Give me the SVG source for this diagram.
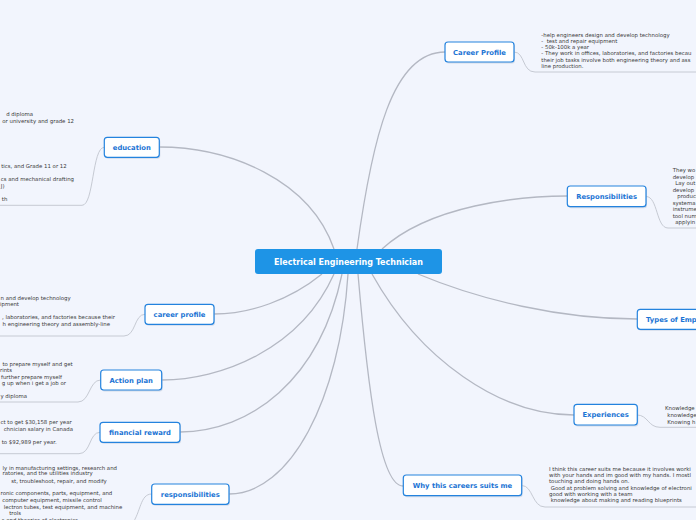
<svg xmlns="http://www.w3.org/2000/svg" width="696" height="520" viewBox="0 0 696 520">
<style>
.bg{fill:#f2f5fd}
.box{fill:#ffffff;stroke:#2483de;stroke-width:1.2}
.sh{fill:#b9c4d8;opacity:0.55}
.lbl{font-family:"DejaVu Sans","Liberation Sans",sans-serif;font-weight:bold;font-size:6.8px;fill:#1b74d4;text-anchor:middle}
.ctr{fill:#1e94e6}
.ctl{font-family:"DejaVu Sans","Liberation Sans",sans-serif;font-weight:bold;font-size:8px;fill:#ffffff;text-anchor:middle}
.lf{font-family:"DejaVu Sans","Liberation Sans",sans-serif;font-size:5.4px;fill:#3a3a3a;white-space:pre}
.e{text-anchor:end}
.conn{fill:none;stroke:#b4b8c3;stroke-width:1.3}
.br{fill:none;stroke:#c6cad3;stroke-width:1}
</style>
<rect class="bg" x="0" y="0" width="696" height="520"/>

<g id="connectors">
  <path class="conn" d="M357,249 C372,140 392,52 445,52"/>
  <path class="conn" d="M382,249 C430,205 520,196 567,196"/>
  <path class="conn" d="M418,274 C480,300 560,319 637,319"/>
  <path class="conn" d="M372,274 C420,360 500,415 574,415"/>
  <path class="conn" d="M358,274 C368,390 380,486 403,486"/>
  <path class="conn" d="M334,249 C310,180 230,147 159,147"/>
  <path class="conn" d="M322,274 C290,300 250,314 214,314"/>
  <path class="conn" d="M334,274 C300,350 220,380 162,380"/>
  <path class="conn" d="M342,274 C320,380 250,432 180,432"/>
  <path class="conn" d="M348,274 C340,400 290,494 229,494"/>
  <path class="br" d="M514,52 C525,52 522,72 535,72 H696"/>
  <path class="br" d="M646,196.5 C658,196.5 656,228 668,228 H696"/>
  <path class="br" d="M637,415 C648,415 648,427.3 660,427.3 H696"/>
  <path class="br" d="M521.7,485.5 C533,485.5 532,507 545,507 H696"/>
  <path class="br" d="M104.3,147.3 C92,147.3 94,205.3 82,205.3 H0"/>
  <path class="br" d="M145,314.3 C134,314.3 136,336 124,336 H0"/>
  <path class="br" d="M100.7,380 C89,380 90,402 78,402 H0"/>
  <path class="br" d="M100,432.3 C89,432.3 91,453.7 79,453.7 H0"/>
  <path class="br" d="M151.7,494 C140,494 141,512 132,524"/>
</g>

<g id="center">
  <rect class="ctr" x="255" y="249" width="187" height="25" rx="3"/>
  <text class="ctl" x="348.5" y="265">Electrical Engineering Technician</text>
</g>

<g id="career-profile-right">
  <rect class="sh" x="446" y="43.5" width="69" height="20" rx="3"/>
  <rect class="box" x="445" y="42" width="69" height="20" rx="3"/>
  <text class="lbl" x="479.5" y="54.5">Career Profile</text>
  <text class="lf" x="541.3" y="37.3">-help engineers design and develop technology</text>
  <text class="lf" x="541.3" y="43.3">-  test and repair equipment</text>
  <text class="lf" x="541.3" y="49.3">- 50k-100k a year</text>
  <text class="lf" x="541.3" y="55.3">- They work in offices, laboratories, and factories becau</text>
  <text class="lf" x="541.3" y="61.6">their job tasks involve both engineering theory and ass</text>
  <text class="lf" x="541.3" y="68">line production.</text>
</g>

<g id="responsibilities-right">
  <rect class="sh" x="568.3" y="187.5" width="78.7" height="20.7" rx="3"/>
  <rect class="box" x="567.3" y="186" width="78.7" height="20.7" rx="3"/>
  <text class="lbl" x="606.6" y="198.8">Responsibilities</text>
  <text class="lf" x="672.7" y="172">They wo</text>
  <text class="lf" x="672.7" y="178.5">develop</text>
  <text class="lf" x="675.3" y="185">Lay out</text>
  <text class="lf" x="672.7" y="191.5">develop</text>
  <text class="lf" x="677.3" y="198">product</text>
  <text class="lf" x="672.7" y="204.5">systema</text>
  <text class="lf" x="672.7" y="211">instrume</text>
  <text class="lf" x="672.7" y="217.5">tool num</text>
  <text class="lf" x="675.3" y="224">applyin</text>
</g>

<g id="types-of-employment">
  <rect class="sh" x="638.3" y="310.8" width="70" height="20" rx="3"/>
  <rect class="box" x="637.3" y="309.3" width="70" height="20" rx="3"/>
  <text class="lbl" x="646" y="321.8" style="text-anchor:start">Types of Emp</text>
</g>

<g id="experiences">
  <rect class="sh" x="575" y="405.8" width="63.3" height="20.7" rx="3"/>
  <rect class="box" x="574" y="404.3" width="63.3" height="20.7" rx="3"/>
  <text class="lbl" x="605.6" y="417.2">Experiences</text>
  <text class="lf" x="665" y="410.3">Knowledge</text>
  <text class="lf" x="667.3" y="417">knowledge</text>
  <text class="lf" x="667.3" y="423.7">Knowing h</text>
</g>

<g id="why-this-career">
  <rect class="sh" x="404.3" y="476.5" width="118.4" height="20.7" rx="3"/>
  <rect class="box" x="403.3" y="475" width="118.4" height="20.7" rx="3"/>
  <text class="lbl" x="462.5" y="487.9">Why this careers suits me</text>
  <text class="lf" x="549" y="471">I think this career suits me because it involves worki</text>
  <text class="lf" x="549" y="477">with your hands and im good with my hands. I mostl</text>
  <text class="lf" x="549" y="483">touching and doing hands on.</text>
  <text class="lf" x="549" y="490"> Good at problem solving and knowledge of electroni</text>
  <text class="lf" x="549" y="496">good with working with a team</text>
  <text class="lf" x="549" y="502"> knowledge about making and reading blueprints</text>
</g>

<g id="education">
  <rect class="sh" x="105.3" y="138.8" width="55" height="20" rx="3"/>
  <rect class="box" x="104.3" y="137.3" width="55" height="20" rx="3"/>
  <text class="lbl" x="131.8" y="149.8">education</text>
  <text class="lf e" x="33" y="116">d diploma</text>
  <text class="lf e" x="74" y="123">or university and grade 12</text>
  <text class="lf e" x="66.7" y="168">tics, and Grade 11 or 12</text>
  <text class="lf e" x="74" y="181.3">cs and mechanical drafting</text>
  <text class="lf e" x="4.5" y="188.3">J)</text>
  <text class="lf e" x="7.3" y="201">th</text>
</g>

<g id="career-profile-left">
  <rect class="sh" x="146" y="305.8" width="69" height="20" rx="3"/>
  <rect class="box" x="145" y="304.3" width="69" height="20" rx="3"/>
  <text class="lbl" x="179.5" y="316.8">career profile</text>
  <text class="lf e" x="70.7" y="300">n and develop technology</text>
  <text class="lf e" x="19" y="306">ipment</text>
  <text class="lf e" x="115" y="319.3">, laboratories, and factories because their</text>
  <text class="lf e" x="110" y="325.7">h engineering theory and assembly-line</text>
</g>

<g id="action-plan">
  <rect class="sh" x="101.7" y="371.5" width="61" height="20" rx="3"/>
  <rect class="box" x="100.7" y="370" width="61" height="20" rx="3"/>
  <text class="lbl" x="131.2" y="382.5">Action plan</text>
  <text class="lf e" x="72.7" y="366">to prepare myself and get</text>
  <text class="lf e" x="12" y="371.7">rints</text>
  <text class="lf e" x="62" y="378.7">further prepare myself</text>
  <text class="lf e" x="66" y="385">g up when i get a job or</text>
  <text class="lf e" x="27" y="398">y diploma</text>
</g>

<g id="financial-reward">
  <rect class="sh" x="101" y="423.8" width="80" height="20" rx="3"/>
  <rect class="box" x="100" y="422.3" width="80" height="20" rx="3"/>
  <text class="lbl" x="140" y="434.8">financial reward</text>
  <text class="lf e" x="71.7" y="424.3">ct to get $30,158 per year</text>
  <text class="lf e" x="73" y="431">chnician salary in Canada</text>
  <text class="lf e" x="56.7" y="444.3">to $92,989 per year.</text>
</g>

<g id="responsibilities-left">
  <rect class="sh" x="152.7" y="485.5" width="77.3" height="20.3" rx="3"/>
  <rect class="box" x="151.7" y="484" width="77.3" height="20.3" rx="3"/>
  <text class="lbl" x="190.3" y="496.6">responsibilities</text>
  <text class="lf e" x="117" y="469.7">ly in manufacturing settings, research and</text>
  <text class="lf e" x="92.7" y="475.3">ratories, and the utilities industry</text>
  <text class="lf e" x="106.7" y="482.7">st, troubleshoot, repair, and modify</text>
  <text class="lf e" x="112.3" y="495.3">ronic components, parts, equipment, and</text>
  <text class="lf e" x="101.7" y="502">computer equipment, missile control</text>
  <text class="lf e" x="122.3" y="508.7">lectron tubes, test equipment, and machine</text>
  <text class="lf e" x="21" y="515.3">trols</text>
  <text class="lf e" x="78" y="521.5">s and theories of electronics</text>
</g>
</svg>
